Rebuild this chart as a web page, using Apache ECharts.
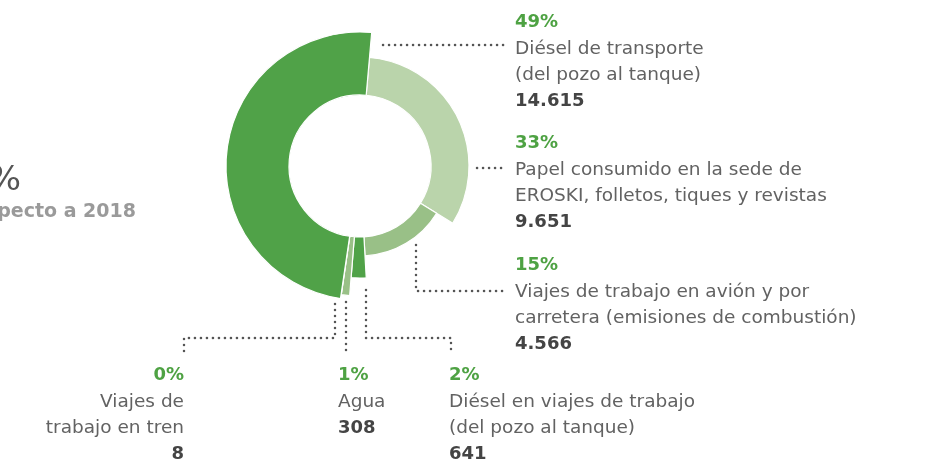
<!DOCTYPE html>
<html>
<head>
<meta charset="utf-8">
<script src="https://cdn.jsdelivr.net/npm/echarts@6/dist/echarts.min.js"></script>
<style>
  html, body { margin: 0; padding: 0; background: #fff; }
  #main { width: 939px; height: 460px; }
</style>
</head>
<body>
<div id="main"></div>
<script>
// data, clockwise from the top of the ring
const names = [
  'Papel consumido en la sede de\nEROSKI, folletos, tiques y revistas',
  'Viajes de trabajo en avión y por\ncarretera (emisiones de combustión)',
  'Diésel en viajes de trabajo\n(del pozo al tanque)',
  'Agua',
  'Viajes de\ntrabajo en tren',
  'Diésel de transporte\n(del pozo al tanque)'
];
const values = [9651, 4566, 641, 308, 8, 14615];
const valueLabels = ['9.651', '4.566', '641', '308', '8', '14.615'];
const percents = ['33%', '15%', '2%', '1%', '0%', '49%'];

// layout / style
const center = [360, 166];
const innerR = 71;
const outerR = [109, 90, 112, 130, 130, 134];
const colors = ['#bad4ab', '#99c087', '#50a248', '#99c087', '#99c087', '#50a248'];
const labelBox = [
  { x: 515, y: 130, align: 'left' },
  { x: 515, y: 252, align: 'left' },
  { x: 449, y: 362, align: 'left' },
  { x: 338, y: 362, align: 'left' },
  { x: 184, y: 362, align: 'right' },
  { x: 515, y: 9, align: 'left' }
];
const leaders = [
  [[477, 168], [505, 168]],
  [[416, 245], [416, 291], [505, 291]],
  [[366, 290], [366, 338], [451, 338], [451, 353]],
  [[346, 302], [346, 353]],
  [[335, 304], [335, 338], [184, 338], [184, 353]],
  [[383, 45], [505, 45]]
];

const font = 'DejaVu Sans';
const rich = {
  p: { color: '#4ea243', fontWeight: 'bold', fontSize: 18, lineHeight: 26.5, fontFamily: font },
  n: { color: '#626262', fontSize: 18.5, lineHeight: 26.5, fontFamily: font },
  v: { color: '#444444', fontWeight: 'bold', fontSize: 18, lineHeight: 26.5, fontFamily: font }
};

const myChart = echarts.init(document.getElementById('main'));

const series = values.map(function (_, k) {
  return {
    type: 'pie',
    center: center,
    radius: [innerR, outerR[k]],
    startAngle: 85,
    clockwise: true,
    silent: true,
    animation: false,
    avoidLabelOverlap: false,
    data: values.map(function (v, i) {
      return {
        value: v,
        name: names[i],
        itemStyle: i === k
          ? { color: colors[i], borderColor: '#fff', borderWidth: 1.2 }
          : { color: 'rgba(0,0,0,0)', borderWidth: 0 },
        label: { show: i === k, align: labelBox[i].align },
        labelLine: { show: i === k }
      };
    }),
    label: {
      position: 'outside',
      formatter: function (p) {
        const i = p.dataIndex;
        return '{p|' + percents[i] + '}\n{n|' + names[i].split('\n').join('}\n{n|') + '}\n{v|' + valueLabels[i] + '}';
      },
      rich: rich
    },
    labelLine: {
      show: true,
      smooth: false,
      lineStyle: { color: '#555', width: 2.5, type: [0.1, 5.9], cap: 'round' }
    },
    labelLayout: function (params) {
      const b = labelBox[params.dataIndex];
      return {
        x: b.x,
        y: b.y,
        align: b.align,
        verticalAlign: 'top',
        labelLinePoints: leaders[params.dataIndex]
      };
    }
  };
});

const option = {
  backgroundColor: '#fff',
  graphic: [
    {
      type: 'text', x: 21, y: 181,
      style: { text: '%', align: 'right', verticalAlign: 'middle', font: '34px "DejaVu Sans"', fill: '#555' }
    },
    {
      type: 'text', x: 136, y: 212,
      style: { text: 'respecto a 2018', align: 'right', verticalAlign: 'middle', font: 'bold 19px "DejaVu Sans"', fill: '#9a9a9a' }
    }
  ],
  series: series
};

myChart.setOption(option);
window.addEventListener('resize', function () { myChart.resize(); });
</script>
</body>
</html>
